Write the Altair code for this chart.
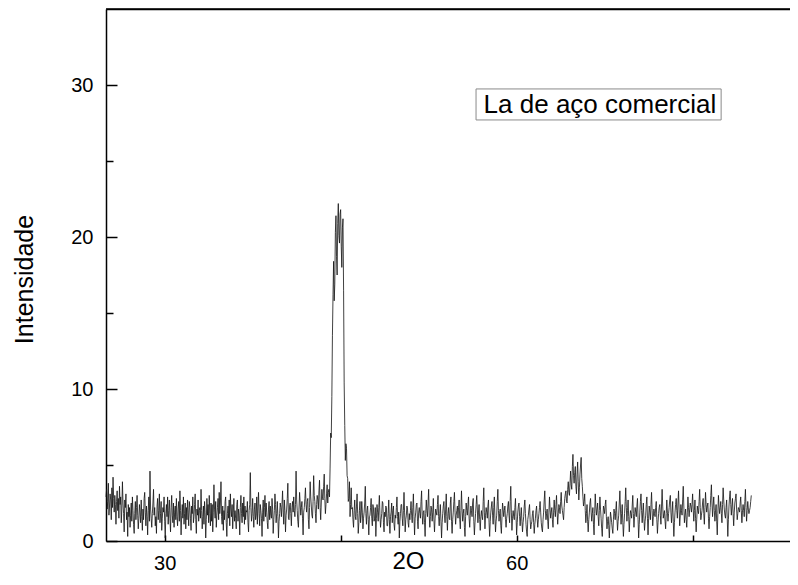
import altair as alt
import pandas as pd

# ---- intensities (2-theta step 0.05) ----
# background 25.00 .. 43.95
bg_25 = [2.9, 3.4, 2.1, 2.6, 3.8, 1.7, 2.3, 3.1, 2.7, 1.4, 3.5, 2.2, 4.2, 2.8, 1.9, 3.0, 2.4, 1.1, 2.6, 3.3,
         2.0, 2.8, 1.5, 3.6, 2.4, 2.9, 1.2, 2.1, 3.9, 2.5, 1.8, 0.6, 2.7, 2.2, 3.1, 1.4, 1.9, 0.3, 2.4, 1.6,
         2.2, 0.9, 1.7, 2.5, 1.3, 2.9, 2.0, 1.1, 0.5, 1.8, 2.6, 1.4, 2.2, 3.0, 1.7, 0.8, 1.5, 2.4, 1.9, 1.2,
         2.7, 1.6, 0.7, 2.1, 1.4, 2.8, 3.2, 1.9, 1.0, 2.3, 1.6, 0.4, 2.0, 2.9, 1.3, 4.6, 2.1, 1.5, 0.9, 1.8,
         2.5, 3.4, 1.7, 2.2, 1.0, 1.6, 0.5, 2.3, 2.8, 1.4, 2.0, 3.1, 1.2, 1.8, 2.6, 0.7, 1.5, 2.2, 1.9, 2.9,
         1.3, 0.2, 1.8, 2.4, 1.6, 2.9, 1.1, 2.0, 2.7, 1.5, 0.6, 2.2, 3.0, 1.7, 1.2, 2.5, 0.9, 1.9, 2.3, 1.4,
         2.8, 1.6, 1.0, 2.1, 2.6, 1.3, 3.3, 2.0, 0.4, 1.7, 2.4, 1.5, 2.9, 1.1, 1.8, 2.5, 0.8, 2.2, 1.4, 2.7,
         1.9, 1.0, 2.6, 2.2, 1.5, 0.7, 2.3, 1.8, 2.9, 1.2, 1.6, 2.4, 3.1, 1.4, 0.5, 2.1, 1.7, 2.7, 1.3, 2.0,
         2.2, 1.5, 3.4, 2.0, 0.8, 1.6, 2.3, 1.1, 2.6, 1.9, 0.2, 1.4, 2.8, 1.7, 2.4, 1.2, 3.0, 1.8, 1.0, 2.5,
         1.3, 2.4, 0.6, 1.9, 3.7, 2.1, 1.5, 2.6, 0.9, 1.7, 2.2, 2.8, 1.4, 3.2, 1.8, 2.5, 3.9, 1.6, 1.1, 2.3,
         0.7, 2.0, 1.4, 2.6, 2.9, 1.2, 0.3, 1.8, 2.3, 1.5, 2.7, 1.0, 3.1, 2.1, 1.6, 2.4, 0.8, 1.9, 2.8, 1.3,
         2.0, 1.5, 0.8, 2.4, 2.7, 1.3, 2.1, 1.7, 0.4, 2.2, 3.0, 1.8, 1.2, 2.5, 1.6, 2.9, 1.1, 2.3, 1.4, 2.0,
         1.9, 2.6, 1.2, 0.6, 2.0, 2.4, 4.5, 2.2, 1.3, 1.8, 2.8, 1.6, 0.9, 2.1, 2.5, 1.4, 1.7, 2.9, 1.1, 2.3,
         3.2, 1.8, 1.0, 2.4, 2.0, 1.5, 0.3, 1.9, 2.7, 1.3, 2.2, 3.0, 1.6, 2.5, 1.9, 1.2, 0.8, 2.1, 2.6, 1.4,
         2.3, 1.7, 1.5, 2.8, 2.1, 0.5, 1.4, 2.0, 3.1, 2.4, 1.2, 1.8, 2.6, 1.6, 0.2, 1.3, 1.8, 2.5, 2.2, 1.6,
         2.4, 3.3, 1.9, 1.1, 2.7, 2.0, 0.6, 1.7, 2.1, 2.8, 3.8, 1.5, 1.4, 2.3, 2.5, 1.8, 1.0, 2.2, 2.6, 1.9,
         2.9, 2.0, 1.6, 2.4, 4.6, 2.7, 2.0, 1.3, 0.9, 2.1, 3.2, 2.5, 1.7, 2.2, 2.6, 1.5, 0.4, 1.9, 2.2, 2.8,
         3.5, 2.4, 1.9, 2.6, 2.8, 1.4, 0.8, 2.2, 3.9, 2.9, 2.3, 1.7, 1.5, 2.6, 4.3, 3.0, 2.6, 1.8, 1.2, 2.4,
         3.0, 2.7, 2.1, 3.3, 4.0, 2.2, 1.4, 2.5, 3.4, 2.9, 2.7, 3.6, 4.4, 2.8, 1.8, 2.4, 3.1, 3.7, 2.5, 3.2]
# main peak 44.00 .. 45.95
peak_44 = [3.4, 2.9, 4.8, 7.1, 6.8, 9.5, 13.5, 16.2, 18.4, 15.8,
           16.9, 20.3, 21.4, 18.7, 17.5, 20.9, 22.2, 20.1, 19.6, 21.5,
           21.8, 19.4, 18.0, 20.6, 21.2, 16.5, 10.4, 7.6, 5.3, 6.4,
           6.1, 4.3, 4.1, 2.6, 2.8, 3.9, 1.6, 2.4, 3.5, 2.1]
# background 46.00 .. 63.95
bg_46 = [2.2, 1.4, 0.9, 2.0, 2.7, 1.6, 1.4, 2.3, 3.1, 1.8, 0.5, 1.2, 2.0, 2.6, 1.2, 1.7, 2.6, 1.9, 0.8, 1.5,
         1.9, 2.5, 3.6, 1.8, 1.1, 2.0, 2.3, 1.4, 0.4, 1.6, 1.7, 2.2, 2.8, 1.5, 1.0, 2.4, 2.1, 1.3, 1.5, 2.2,
         0.3, 1.5, 2.4, 1.9, 1.3, 2.2, 3.0, 1.7, 0.9, 1.4, 1.8, 2.6, 2.5, 1.2, 0.6, 1.9, 1.6, 2.3, 2.2, 1.0,
         1.0, 1.8, 2.7, 1.4, 0.5, 1.6, 1.9, 2.5, 1.2, 2.0, 2.3, 1.1, 0.7, 1.7, 1.5, 2.2, 2.9, 1.6, 1.1, 1.9,
         0.2, 1.3, 1.8, 2.4, 2.4, 1.5, 1.0, 2.0, 3.2, 1.9, 0.6, 1.4, 1.7, 2.3, 2.1, 1.2, 0.9, 1.8, 1.4, 2.0,
         2.6, 1.7, 1.2, 2.2, 3.1, 1.6, 0.4, 1.5, 1.9, 2.4, 2.5, 1.3, 0.8, 1.9, 2.2, 1.8, 1.5, 2.6, 3.3, 1.7,
         1.1, 1.9, 2.0, 1.2, 0.3, 1.8, 2.7, 2.0, 1.6, 2.5, 3.4, 1.7, 0.9, 1.6, 2.3, 2.1, 1.3, 1.9, 2.8, 1.4,
         0.6, 1.5, 2.1, 1.9, 1.7, 2.4, 3.0, 1.6, 1.0, 1.8, 2.4, 1.3, 0.2, 1.2, 1.8, 2.3, 2.6, 1.7, 1.2, 2.1,
         3.1, 1.6, 0.7, 1.8, 2.2, 1.5, 1.4, 2.5, 2.9, 1.3, 0.5, 1.4, 1.9, 2.6, 3.2, 1.9, 1.1, 1.7, 2.0, 2.3,
         1.5, 2.2, 2.7, 1.4, 0.8, 2.0, 3.3, 2.1, 1.3, 1.8, 2.1, 0.9, 0.3, 1.6, 2.5, 2.0, 1.7, 2.4, 2.9, 1.5,
         0.9, 1.7, 2.3, 2.0, 1.6, 2.5, 2.8, 1.3, 0.4, 1.2, 1.8, 2.4, 3.0, 2.1, 1.2, 1.9, 2.4, 1.4, 0.7, 1.6,
         2.0, 1.6, 1.4, 2.6, 3.5, 1.9, 0.8, 1.7, 2.2, 1.9, 1.5, 2.3, 2.7, 1.2, 0.3, 1.3, 1.9, 2.3, 2.6, 1.7,
         1.1, 2.2, 2.9, 1.5, 0.6, 1.3, 1.7, 2.6, 3.4, 2.0, 1.3, 1.8, 2.1, 1.0, 0.5, 1.6, 2.5, 2.1, 1.6, 2.0,
         2.3, 1.4, 0.9, 1.5, 1.8, 2.3, 2.6, 1.7, 1.2, 2.6, 3.6, 1.9, 0.7, 1.5, 2.0, 1.6, 1.4, 2.2, 2.8, 1.6,
         0.4, 1.2, 1.9, 2.3, 2.5, 1.6, 1.0, 1.7, 2.2, 1.3, 0.6, 1.2, 1.6, 2.3, 2.7, 1.8, 1.1, 0.6, 0.3, 1.4,
         1.7, 2.1, 2.4, 1.4, 0.8, 1.1, 1.3, 1.8, 2.0, 1.2, 0.5, 1.1, 1.5, 2.0, 2.3, 1.5, 0.9, 1.4, 1.8, 2.2,
         2.6, 1.9, 1.2, 0.8, 0.6, 1.4, 1.9, 2.7, 3.3, 2.0, 1.4, 1.8, 2.1, 1.3, 0.8, 1.9, 2.9, 2.1, 1.5, 1.9,
         2.2, 1.4, 0.9, 1.9, 2.7, 2.0, 1.6, 2.4, 3.0, 1.9, 1.1, 1.8, 2.4, 2.2, 1.8, 2.6, 3.2, 2.3, 2.0, 1.7]
# small peak 64.00 .. 65.95
peak_64 = [1.4, 2.2, 2.8, 3.1, 3.3, 2.6, 2.5, 3.4, 3.9, 3.2, 3.0, 3.8, 4.6, 3.7, 3.4, 4.9, 5.7, 4.3, 3.8, 4.5,
           4.9, 3.6, 3.1, 4.4, 5.2, 3.9, 2.7, 3.5, 4.4, 5.0, 5.5, 4.1, 3.6, 2.9, 2.3, 2.6, 3.1, 2.0, 1.2, 1.8]
# background 66.00 .. 80.00
bg_66 = [2.4, 1.3, 0.6, 1.4, 1.9, 2.5, 2.8, 1.9, 1.3, 1.8, 2.2, 1.1, 0.4, 1.8, 3.1, 2.3, 1.7, 2.1, 2.5, 1.6,
         1.0, 2.0, 2.9, 2.1, 1.5, 0.8, 0.3, 1.4, 2.3, 2.1, 1.8, 2.4, 2.7, 1.6, 0.8, 1.3, 1.6, 1.0, 0.2, 1.1,
         1.9, 1.6, 1.2, 0.8, 0.5, 1.4, 2.1, 1.8, 1.4, 2.0, 2.6, 1.5, 0.7, 1.3, 1.7, 2.5, 3.3, 2.1, 1.1, 1.8,
         2.4, 1.2, 0.3, 1.1, 1.8, 2.6, 3.5, 2.2, 1.3, 2.0, 2.7, 1.6, 0.6, 1.4, 2.0, 1.8, 1.5, 2.3, 3.0, 1.8,
         0.9, 1.6, 2.2, 1.9, 1.6, 2.3, 2.8, 1.4, 0.2, 1.1, 1.9, 2.6, 3.1, 2.0, 1.2, 1.9, 2.5, 1.5, 0.7, 1.3,
         1.7, 2.4, 2.9, 1.5, 0.4, 1.5, 2.3, 1.9, 1.4, 2.4, 3.2, 2.0, 1.0, 1.6, 2.1, 1.8, 1.6, 2.2, 2.6, 1.4,
         0.5, 1.2, 1.8, 2.2, 2.4, 1.7, 1.1, 2.3, 3.4, 2.3, 1.5, 1.8, 2.0, 1.3, 0.8, 1.8, 2.7, 1.9, 1.3, 1.8,
         2.2, 2.7, 3.0, 1.9, 1.2, 1.9, 2.6, 1.3, 0.3, 1.2, 1.9, 2.4, 2.8, 2.0, 1.5, 2.5, 3.3, 2.1, 1.0, 1.7,
         2.4, 2.0, 1.7, 2.7, 3.6, 2.3, 1.2, 1.7, 2.1, 1.4, 0.9, 1.9, 2.9, 2.2, 1.6, 2.1, 2.5, 2.3, 1.9, 2.4,
         3.1, 2.1, 1.3, 2.0, 2.7, 1.5, 0.6, 1.4, 2.3, 2.0, 1.8, 2.6, 3.4, 2.2, 1.4, 1.7, 2.0, 2.5, 2.8, 1.8,
         1.1, 2.2, 3.2, 2.4, 1.9, 2.3, 2.5, 1.5, 0.8, 1.6, 2.2, 3.0, 3.7, 2.5, 1.6, 2.3, 2.9, 2.0, 1.3, 1.9,
         2.4, 1.3, 0.4, 1.8, 3.0, 2.3, 1.8, 2.2, 2.6, 1.8, 1.2, 2.4, 3.5, 2.7, 2.1, 1.7, 1.5, 2.2, 2.7, 1.5,
         0.3, 1.4, 2.3, 2.9, 3.3, 2.4, 1.7, 2.3, 2.8, 1.8, 1.0, 1.9, 2.5, 2.8, 3.1, 2.1, 1.4, 1.8, 2.2, 2.1,
         1.9, 2.5, 2.9, 2.0, 1.2, 1.9, 2.4, 2.0, 1.6, 2.6, 3.4, 2.2, 1.3, 2.0, 2.6, 2.1, 1.8, 2.0, 2.2, 2.6,
         3.0]

segments = [(25.0, bg_25), (44.0, peak_44), (46.0, bg_46), (64.0, peak_64), (66.0, bg_66)]
STEP = 0.05
rows = []
for start, vals in segments:
    for i, v in enumerate(vals):
        rows.append({"two_theta": round(start + STEP * i, 3), "intensity": v})
df = pd.DataFrame(rows)

# axis settings
X_DOMAIN = [25, 83.3]
Y_DOMAIN = [0, 35]
X_LABELS = [30, 60]
X_TICKS = [30, 45, 60, 75]
Y_MAJOR = [0, 10, 20, 30]
Y_MINOR = [5, 15, 25]

# legend box (data units)
legend_text = "La de aço comercial"
legend_df = pd.DataFrame([{"x1": 56.54, "x2": 77.43, "y1": 29.74, "y2": 27.70,
                           "tx": 67.1, "ty": 28.16, "label": legend_text}])
frame_df = pd.DataFrame([{"top": Y_DOMAIN[1]}])

FONT = "Liberation Sans"
xs = alt.Scale(domain=X_DOMAIN, nice=False, zero=False)
ys = alt.Scale(domain=Y_DOMAIN, nice=False)

line = alt.Chart(df).mark_line(color="#111111", strokeWidth=0.8).encode(
    x=alt.X("two_theta:Q", scale=xs, title="2O",
            axis=alt.Axis(orient="bottom", values=X_LABELS, grid=False, ticks=False,
                          tickSize=0, labelFontSize=20, labelPadding=12, labelFont=FONT,
                          labelColor="black", domainColor="black", domainWidth=1.5,
                          titleFont=FONT, titleFontSize=24, titleFontWeight="normal",
                          titleColor="black", titleX=302, titleY=27, titleAlign="center",
                          titleBaseline="alphabetic")),
    y=alt.Y("intensity:Q", scale=ys, title="Intensidade",
            axis=alt.Axis(orient="left", values=Y_MAJOR, grid=False, ticks=False,
                          tickSize=0, labelFontSize=20, labelPadding=13, labelFont=FONT,
                          labelColor="black", domainColor="black", domainWidth=1.5,
                          titleFont=FONT, titleFontSize=25, titleFontWeight="normal",
                          titleColor="black", titleX=-82, titleY=270, titleAlign="center",
                          titleAngle=270, titleBaseline="middle")),
)

top_rule = alt.Chart(frame_df).mark_rule(color="black", strokeWidth=1.5).encode(
    y=alt.Y("top:Q", scale=ys, axis=None),
)

box = alt.Chart(legend_df).mark_rect(filled=False, stroke="#8a8a8a", strokeWidth=1).encode(
    x=alt.X("x1:Q", scale=xs, title=None,
            axis=alt.Axis(orient="top", labels=False, ticks=False, grid=False,
                          domainColor="black", domainWidth=1.5)),
    x2="x2:Q",
    y=alt.Y("y1:Q", scale=ys, title=None,
            axis=alt.Axis(orient="left", values=Y_MAJOR, labels=False, domain=False,
                          grid=False, ticks=True, tickSize=11, offset=-11,
                          tickColor="black", tickWidth=1.5)),
    y2="y2:Q",
)

text = alt.Chart(legend_df).mark_text(font=FONT, fontSize=26, color="black",
                                      align="center", baseline="alphabetic").encode(
    x=alt.X("tx:Q", scale=xs, title=None,
            axis=alt.Axis(orient="bottom", values=X_TICKS, labels=False, domain=False,
                          grid=False, ticks=True, tickSize=6, offset=-6,
                          tickColor="black", tickWidth=1.5)),
    y=alt.Y("ty:Q", scale=ys, title=None,
            axis=alt.Axis(orient="left", values=Y_MINOR, labels=False, domain=False,
                          grid=False, ticks=True, tickSize=7, offset=-7,
                          tickColor="black", tickWidth=1.5)),
    text="label:N",
)

chart = alt.layer(line, top_rule, box, text).resolve_axis(
    x="independent", y="independent"
).properties(
    width=684, height=532,
    autosize=alt.AutoSizeParams(type="none"),
    padding={"left": 98, "top": 1, "right": 0, "bottom": 32},
    background="white",
).configure_view(strokeWidth=0)

chart.save("out.html", embed_options={"renderer": "svg", "actions": False})
